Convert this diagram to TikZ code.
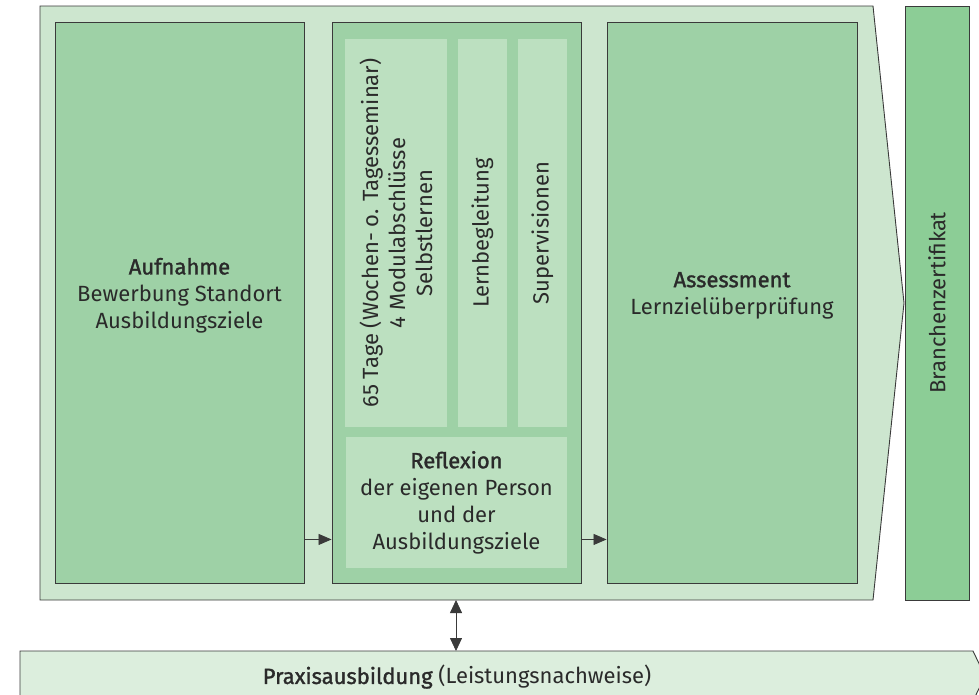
\documentclass[tikz,border=0pt]{standalone}
\usepackage{fontspec}
\setmainfont{Fira Sans}[BoldFont={Fira Sans},BoldFeatures={FakeBold=1.4}]
\usepackage{xcolor}
\usepackage{tikz}
\usetikzlibrary{arrows.meta}
\definecolor{outerfill}{HTML}{CDE6CF}
\definecolor{boxfill}{HTML}{9ED1A6}
\definecolor{subfill}{HTML}{BCE0C0}
\definecolor{certfill}{HTML}{8CCD96}
\definecolor{praxfill}{HTML}{DCEEDD}
\definecolor{linegray}{HTML}{3A3A3A}
\definecolor{textgray}{HTML}{2A2A2A}
\newcommand{\hd}[1]{\textbf{#1}}

\begin{document}
\begin{tikzpicture}[x=1pt,y=-1pt,
  every node/.style={text=textgray,font=\fontsize{22}{27}\selectfont,align=center,inner sep=0pt},
  box/.style={draw=linegray,line width=0.9pt,fill=boxfill,rectangle,minimum width=249pt,minimum height=561pt},
  subbox/.style={draw=none,fill=subfill,rectangle,minimum height=388pt},
  flow/.style={draw=linegray,line width=0.8pt,-{Triangle[length=13pt,width=11pt]}},
  both/.style={draw=linegray,line width=0.8pt,{Triangle[length=13pt,width=12pt]}-{Triangle[length=13pt,width=12pt]}}]

\useasboundingbox (0,0) rectangle (979,694);

\draw[draw=linegray,line width=0.9pt,fill=outerfill] (40,6) -- (873,6) -- (904,303) -- (873,600) -- (40,600) -- cycle;
\coordinate (outerbot) at (456,600);

\begin{scope}
\clip (0,0) rectangle (979,694);
\draw[draw=linegray,line width=0.9pt,fill=praxfill] (20,651) -- (973,651) -- (985,676) -- (973,701) -- (20,701) -- cycle;
\end{scope}
\coordinate (praxtop) at (456,651);

\draw node[box] at (179.5,302.5) (aufnahme) {};
\draw node[box] at (456.5,302.5) (mitte) {};
\draw node[box,minimum width=250pt] at (732,302.5) (assess) {};
\draw node[draw=linegray,line width=0.9pt,fill=certfill,rectangle,minimum width=64pt,minimum height=594pt] at (937,303) (cert) {};

\draw node[subbox,minimum width=102pt] at (396,233) (tage) {};
\draw node[subbox,minimum width=49pt] at (482.5,233) (begl) {};
\draw node[subbox,minimum width=49pt] at (542.5,233) (superv) {};
\draw node[fill=subfill,rectangle,minimum width=221pt,minimum height=131pt] at (456.5,502.5) (refl) {\hd{Reflexion}\\der eigenen Person\\und der\\Ausbildungsziele};

\draw node at ([yshift=7pt]aufnahme.center) (aufnahmetxt) {\hd{Aufnahme}\\Bewerbung Standort\\Ausbildungsziele};
\draw node at ([yshift=7pt]assess.center) (assesstxt) {\hd{Assessment}\\Lernzielüberprüfung};
\draw node[rotate=90] at (tage.center) (tagetxt) {65 Tage (Wochen- o. Tagesseminar)\\4 Modulabschlüsse\\Selbstlernen};
\draw node[rotate=90] at (begl.center) (begltxt) {Lernbegleitung};
\draw node[rotate=90] at (superv.center) (supervtxt) {Supervisionen};
\draw node[rotate=90] at (cert.center) (certtxt) {Branchenzertifikat};
\draw node at (457,677) (praxis) {\hd{Praxisausbildung} (Leistungsnachweise)};

\draw[flow] ([yshift=44pt]aufnahme.south east) -- ([yshift=44pt]mitte.south west);
\draw[flow] ([yshift=44pt]mitte.south east) -- ([yshift=44pt]assess.south west);
\draw[both] (outerbot) -- (praxtop);

\end{tikzpicture}
\end{document}
